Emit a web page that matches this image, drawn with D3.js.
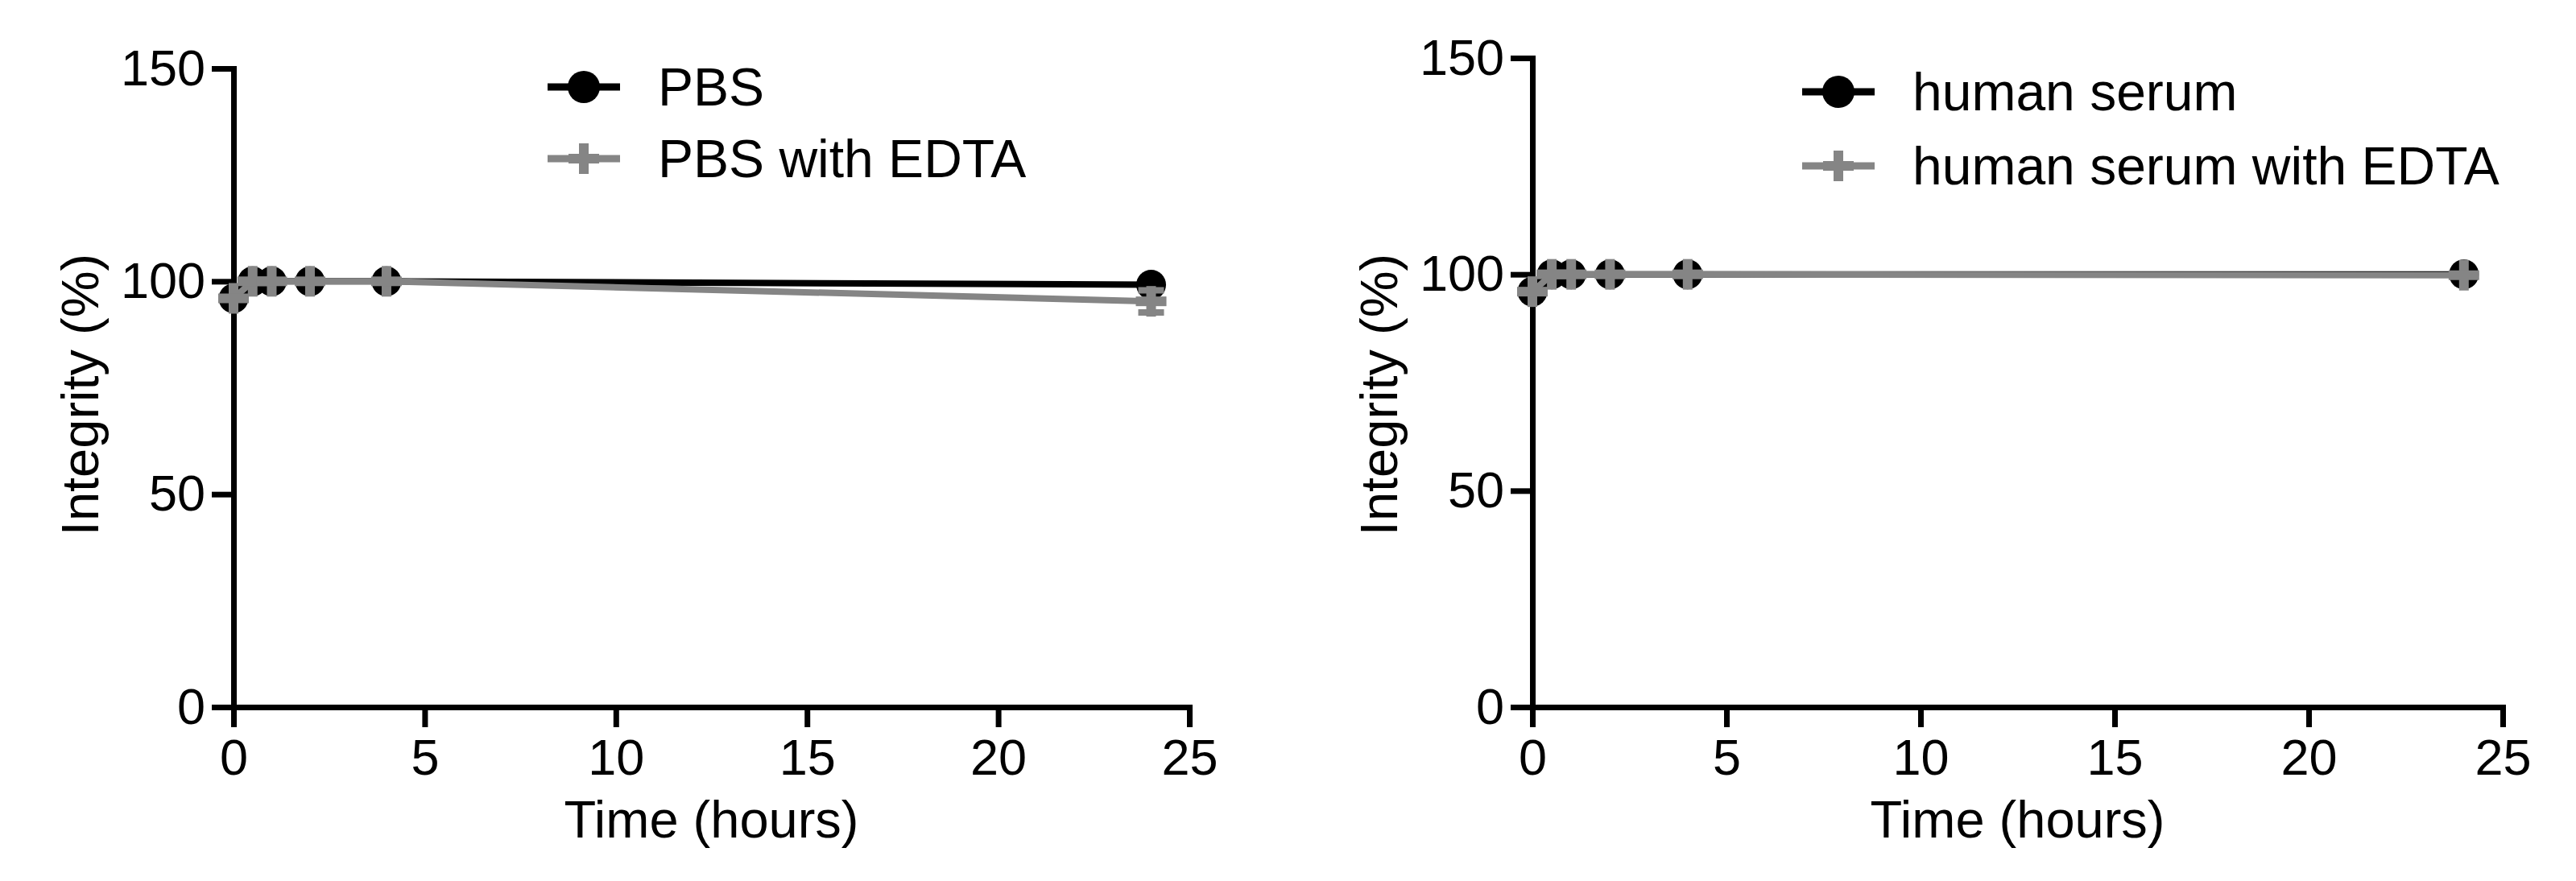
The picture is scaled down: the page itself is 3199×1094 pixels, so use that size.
<!DOCTYPE html>
<html>
<head>
<meta charset="utf-8">
<script src="https://cdn.jsdelivr.net/npm/d3@7"></script>
<style>
  body { margin: 0; background: #fff; }
  svg text { font-family: "Liberation Sans", Arial, sans-serif; fill: #000; }
</style>
</head>
<body>
<svg id="chart" width="3199" height="1094"></svg>
<script>
// data
var times = [0, 0.5, 1, 2, 4, 24];
var pbs = [96, 100, 100, 100, 100, 99.2];
var pbsEdta = [96, 100, 100, 100, 100, 95.3];
var pbsEdtaErr = [0, 0, 0, 0, 0, 2.6];
var serum = [96, 100, 100, 100, 100, 100];
var serumEdta = [96, 100, 100, 100, 100, 99.8];
var serumEdtaErr = [0, 0, 0, 0, 0, 0];
var xTicks = [0, 5, 10, 15, 20, 25];
var yTicks = [0, 50, 100, 150];
var xLabel = "Time (hours)", yLabel = "Integrity (%)";

var black = "#000", grey = "#858585";
var svg = d3.select("#chart");

var drawPanel = function(opt){
    var x = d3.scaleLinear().domain([0, 25]).range([opt.x0, opt.x1]);
    var y = d3.scaleLinear().domain([0, 150]).range([opt.y0, opt.y1]);
    var g = svg.append("g");

    var yAxis = g.append("g")
        .attr("transform", "translate(" + opt.x0 + ",0)")
        .call(d3.axisLeft(y).tickValues(yTicks).tickSize(27).tickSizeOuter(0).tickPadding(8));
    var xAxis = g.append("g")
        .attr("transform", "translate(0," + opt.y0 + ")")
        .call(d3.axisBottom(x).tickValues(xTicks).tickSize(25).tickSizeOuter(0).tickPadding(14));

    [xAxis, yAxis].forEach(function(a){
        a.select(".domain").attr("stroke", black).attr("stroke-width", 7).attr("stroke-linecap", "square");
        a.selectAll(".tick line").attr("stroke", black).attr("stroke-width", 7);
        a.selectAll(".tick text").style("font-size", "63px").attr("fill", black);
    });

    g.append("text")
        .attr("x", (opt.x0 + opt.x1) / 2)
        .attr("y", 1040)
        .attr("text-anchor", "middle")
        .style("font-size", "65px")
        .text(xLabel);
    g.append("text")
        .attr("transform", "translate(" + (opt.x0 - 168) + ",490) rotate(-90)")
        .attr("text-anchor", "middle")
        .style("font-size", "65px")
        .text(yLabel);

    var line = d3.line().x(function(d){ return x(d[0]); }).y(function(d){ return y(d[1]); });

    // black series with filled circles
    var s1 = times.map(function(t, i){ return [t, opt.s1[i]]; });
    g.append("path").datum(s1).attr("d", line)
        .attr("fill", "none").attr("stroke", black).attr("stroke-width", 8);
    g.selectAll("circle.s1").data(s1).enter().append("circle")
        .attr("class", "s1")
        .attr("cx", function(d){ return x(d[0]); })
        .attr("cy", function(d){ return y(d[1]); })
        .attr("r", 18.5)
        .attr("fill", black);

    // grey series with plus markers and error bars
    var s2 = times.map(function(t, i){ return [t, opt.s2[i], opt.e2[i]]; });
    g.append("path").datum(s2).attr("d", line)
        .attr("fill", "none").attr("stroke", grey).attr("stroke-width", 8);
    s2.forEach(function(d){
        if(d[2] > 0){
            var cx = x(d[0]);
            g.append("line")
                .attr("x1", cx).attr("x2", cx)
                .attr("y1", y(d[1] - d[2])).attr("y2", y(d[1] + d[2]))
                .attr("stroke", grey).attr("stroke-width", 8);
            [d[1] - d[2], d[1] + d[2]].forEach(function(v){
                g.append("line")
                    .attr("x1", cx - 16).attr("x2", cx + 16)
                    .attr("y1", y(v)).attr("y2", y(v))
                    .attr("stroke", grey).attr("stroke-width", 8);
            });
        }
        plus(g, x(d[0]), y(d[1]));
    });

    // legend
    var lg = g.append("g");
    opt.names.forEach(function(name, i){
        var ly = opt.legY[i];
        lg.append("line")
            .attr("x1", opt.legX).attr("x2", opt.legX + 90)
            .attr("y1", ly).attr("y2", ly)
            .attr("stroke", i == 0 ? black : grey).attr("stroke-width", 9);
        if(i == 0){
            lg.append("circle").attr("cx", opt.legX + 45).attr("cy", ly).attr("r", 20).attr("fill", black);
        }else{
            plus(lg, opt.legX + 45, ly);
        }
        lg.append("text")
            .attr("x", opt.legX + 137)
            .attr("y", ly + 23)
            .style("font-size", "66px")
            .text(name);
    });
};

function plus(g, cx, cy){
    g.append("rect").attr("x", cx - 6).attr("y", cy - 19).attr("width", 12).attr("height", 38).attr("fill", grey);
    g.append("rect").attr("x", cx - 19).attr("y", cy - 6).attr("width", 38).attr("height", 12).attr("fill", grey);
}

drawPanel({x0: 290, x1: 1477, y0: 878, y1: 85,
    s1: pbs, s2: pbsEdta, e2: pbsEdtaErr,
    names: ["PBS", "PBS with EDTA"], legX: 680, legY: [108, 197]});
drawPanel({x0: 1903, x1: 3108, y0: 878, y1: 72,
    s1: serum, s2: serumEdta, e2: serumEdtaErr,
    names: ["human serum", "human serum with EDTA"], legX: 2238, legY: [114, 206]});
</script>
</body>
</html>
